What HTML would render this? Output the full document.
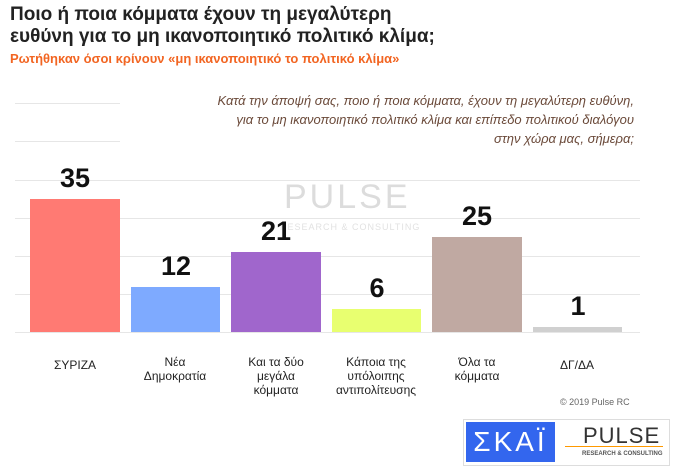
<!DOCTYPE html><html><head><meta charset="utf-8"><style>
body{margin:0;width:680px;height:473px;background:#fff;font-family:"Liberation Sans",sans-serif;position:relative;overflow:hidden}
.a{position:absolute}
.g{position:absolute;left:15px;width:625px;height:1px;background:#e6e6e6}
.b{position:absolute}
.v{position:absolute;font-weight:bold;font-size:27px;text-align:center;width:90px;color:#111}
.l{position:absolute;font-size:12px;text-align:center;width:100px;color:#222;line-height:14px;top:355px}
</style></head><body>
<div class="a" style="left:10px;top:4px;font-size:19px;font-weight:bold;color:#222;line-height:22px">Ποιο ή ποια κόμματα έχουν τη μεγαλύτερη<br>ευθύνη για το μη ικανοποιητικό πολιτικό κλίμα;</div>
<div class="a" style="left:10px;top:51px;font-size:13px;font-weight:bold;color:#f26522">Ρωτήθηκαν όσοι κρίνουν «μη ικανοποιητικό το πολιτικό κλίμα»</div>
<div class="g" style="top:103px;width:105px"></div>
<div class="g" style="top:141px;width:105px"></div>
<div class="g" style="top:180px"></div><div class="g" style="top:218px"></div><div class="g" style="top:256px"></div><div class="g" style="top:294px"></div><div class="g" style="top:332px"></div>
<div class="a" style="right:46px;top:91px;font-size:13px;font-style:italic;color:#6b4a3a;text-align:right;line-height:19px">Κατά την άποψή σας, ποιο ή ποια κόμματα, έχουν τη μεγαλύτερη ευθύνη,<br>για το μη ικανοποιητικό πολιτικό κλίμα και επίπεδο πολιτικού διαλόγου<br>στην χώρα μας, σήμερα;</div>
<div class="a" style="left:284px;top:178px;font-size:34px;color:#dcdcdc;letter-spacing:3px">PULSE</div>
<div class="a" style="left:280px;top:222px;font-size:9px;color:#e2e2e2;letter-spacing:1px">RESEARCH &amp; CONSULTING</div>
<div class="b" style="left:30px;top:199px;width:90px;height:133px;background:#ff7a73"></div>
<div class="b" style="left:131px;top:287px;width:89px;height:45px;background:#7eaaff"></div>
<div class="b" style="left:231px;top:252px;width:90px;height:80px;background:#a066cc"></div>
<div class="b" style="left:332px;top:309px;width:89px;height:23px;background:#e8ff70"></div>
<div class="b" style="left:432px;top:237px;width:90px;height:95px;background:#c0a9a2"></div>
<div class="b" style="left:533px;top:327px;width:89px;height:5px;background:#d0d0d0"></div>
<div class="v" style="left:30px;top:163px">35</div>
<div class="v" style="left:131px;top:251px">12</div>
<div class="v" style="left:231px;top:216px">21</div>
<div class="v" style="left:332px;top:273px">6</div>
<div class="v" style="left:432px;top:201px">25</div>
<div class="v" style="left:533px;top:291px">1</div>
<div class="l" style="left:25px;top:358px">ΣΥΡΙΖΑ</div>
<div class="l" style="left:125px">Νέα<br>Δημοκρατία</div>
<div class="l" style="left:226px">Και τα δύο<br>μεγάλα<br>κόμματα</div>
<div class="l" style="left:326px">Κάποια της<br>υπόλοιπης<br>αντιπολίτευσης</div>
<div class="l" style="left:427px">Όλα τα<br>κόμματα</div>
<div class="l" style="left:527px;top:358px">ΔΓ/ΔΑ</div>
<div class="a" style="left:560px;top:397px;font-size:9px;color:#666">© 2019 Pulse RC</div>
<div class="a" style="left:463px;top:419px;width:205px;height:45px;border:1px solid #ddd;background:#fff"></div>
<div class="a" style="left:466px;top:422px;width:89px;height:40px;background:#3366ee;color:#fff;font-size:28px;text-align:center;line-height:40px;letter-spacing:3px">ΣΚΑΪ</div>
<div class="a" style="left:583px;top:423px;font-size:22px;color:#333;letter-spacing:1px">PULSE</div>
<div class="a" style="left:565px;top:446px;width:98px;height:1px;background:#f90"></div>
<div class="a" style="left:582px;top:451px;font-size:6px;color:#555;font-weight:bold">RESEARCH &amp; CONSULTING</div>
</body></html>
